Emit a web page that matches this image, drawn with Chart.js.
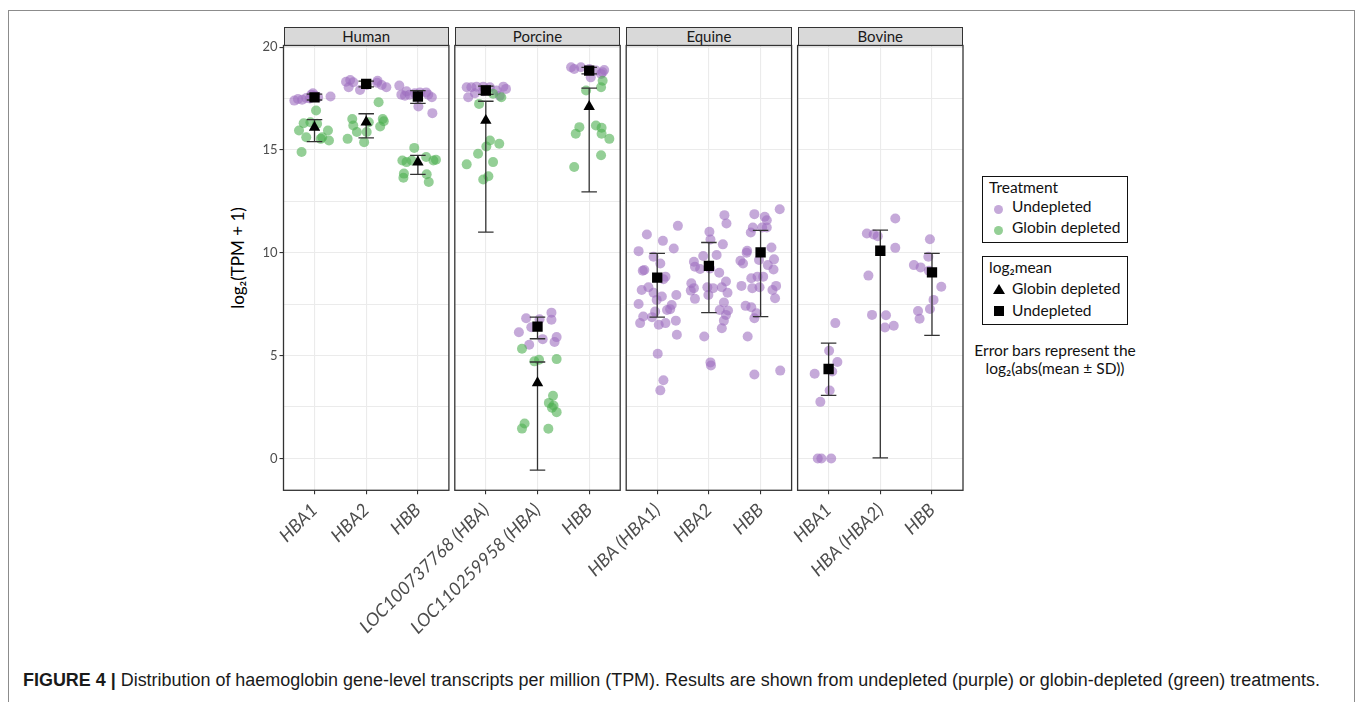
<!DOCTYPE html>
<html>
<head>
<meta charset="utf-8">
<script src="https://cdn.jsdelivr.net/npm/chart.js@4.4.1/dist/chart.umd.min.js"></script>
<style>
  html,body{margin:0;padding:0;background:#fff;}
  body{width:1360px;height:702px;position:relative;overflow:hidden;font-family:Lato,"Open Sans",sans-serif;}
  canvas{position:absolute;left:0;top:0;}
  .frame{position:absolute;left:8px;top:10px;width:1347px;height:720px;border:1.5px solid #8c8c8c;box-sizing:border-box;}
  .strip{position:absolute;top:27px;height:19px;background:#D9D9D9;border:1.2px solid #333;box-sizing:border-box;text-align:center;font-size:15px;line-height:17px;color:#1A1A1A;}
  .ytitle{position:absolute;left:237px;top:258px;transform:translate(-50%,-50%) rotate(-90deg);font-size:17px;color:#000;white-space:nowrap;}
  .lbox{position:absolute;left:982px;width:146px;border:1.2px solid #111;box-sizing:border-box;font-size:15.5px;color:#111;}
  .lrow{position:absolute;left:0;white-space:nowrap;}
  .note{position:absolute;left:945px;width:220px;text-align:center;font-size:15.5px;color:#111;line-height:18px;white-space:nowrap;}
  .caption{position:absolute;left:23px;top:670px;font-family:"Liberation Sans Narrow","Liberation Sans",Arial,sans-serif;font-size:18px;color:#1a1a1a;white-space:nowrap;transform-origin:0 0;}
</style>
</head>
<body>
<div class="frame"></div>
<div id="strips"></div>
<div class="ytitle">log₂(TPM + 1)</div>

<div class="lbox" style="top:176px;height:67px;">
  <div class="lrow" style="left:6px;top:1px;">Treatment</div>
  <div class="lrow" style="left:11px;top:22px;"><span style="display:inline-block;width:9px;height:9px;border-radius:50%;background:#C5A9D9;"></span></div>
  <div class="lrow" style="left:29px;top:20px;">Undepleted</div>
  <div class="lrow" style="left:11px;top:43px;"><span style="display:inline-block;width:9px;height:9px;border-radius:50%;background:#94CF95;"></span></div>
  <div class="lrow" style="left:29px;top:41px;">Globin depleted</div>
</div>
<div class="lbox" style="top:256px;height:69px;">
  <div class="lrow" style="left:6px;top:1px;">log₂mean</div>
  <div class="lrow" style="left:10px;top:27px;width:0;height:0;border-left:6px solid transparent;border-right:6px solid transparent;border-bottom:10px solid #000;"></div>
  <div class="lrow" style="left:29px;top:22px;">Globin depleted</div>
  <div class="lrow" style="left:11px;top:49px;width:10px;height:10px;background:#000;"></div>
  <div class="lrow" style="left:29px;top:44px;">Undepleted</div>
</div>
<div class="note" style="top:341px;">Error bars represent the<br>log₂(abs(mean ± SD))</div>

<div class="caption" id="caption"><b>FIGURE 4 |</b> Distribution of haemoglobin gene-level transcripts per million (TPM). Results are shown from undepleted (purple) or globin-depleted (green) treatments.</div>

<script>
// ---------------- DATA ----------------
const panels = ['Human', 'Porcine', 'Equine', 'Bovine'];
const genes = [
  ['HBA1', 'HBA2', 'HBB'],
  ['LOC100737768 (HBA)', 'LOC110259958 (HBA)', 'HBB'],
  ['HBA (HBA1)', 'HBA2', 'HBB'],
  ['HBA1', 'HBA (HBA2)', 'HBB']
];
const yTickValues = [0, 2.5, 5, 7.5, 10, 12.5, 15, 17.5, 20];
const yLabelled = [0, 5, 10, 15, 20];

// jittered samples: [category index (1-3), horizontal jitter, log2(TPM+1)]
const humanUndepleted = [
  [1,-0.39,17.40],[1,-0.32,17.48],[1,-0.24,17.44],[1,-0.16,17.53],[1,-0.09,17.50],[1,-0.06,17.69],[1,-0.03,17.76],[1,0.01,17.64],[1,0.07,17.56],[1,0.31,17.60],
  [2,-0.39,18.32],[2,-0.31,18.40],[2,-0.34,18.05],[2,-0.25,18.29],[2,-0.12,17.92],[2,0.01,18.16],[2,0.21,18.27],[2,0.22,18.37],[2,0.30,18.16],[2,0.39,18.05],
  [3,-0.36,18.13],[3,-0.32,17.69],[3,-0.25,17.64],[3,-0.22,17.85],[3,-0.16,17.69],[3,-0.06,17.76],[3,0.04,17.80],[3,0.16,17.80],[3,0.20,17.69],[3,0.27,17.56],[3,0.01,17.11],[3,0.28,16.79]
];
const humanDepleted = [
  [1,0.03,16.92],[1,-0.21,16.30],[1,-0.08,16.35],[1,0.05,16.27],[1,-0.30,15.95],[1,0.26,15.95],[1,-0.16,15.62],[1,0.15,15.62],[1,0.12,15.54],[1,0.28,15.46],[1,-0.25,14.90],
  [2,0.24,17.32],[2,-0.27,16.51],[2,0.32,16.51],[2,0.34,16.40],[2,0.05,16.35],[2,-0.25,16.19],[2,0.27,16.14],[2,-0.18,15.87],[2,0.01,15.87],[2,-0.36,15.54],[2,-0.04,15.38],
  [3,-0.07,15.10],[3,-0.30,14.49],[3,-0.22,14.41],[3,-0.12,14.49],[3,0.16,14.66],[3,0.30,14.49],[3,0.35,14.52],[3,-0.27,13.85],[3,-0.28,13.65],[3,0.17,13.82],[3,0.21,13.44]
];
const porcineUndepleted = [
  [1,-0.37,18.05],[1,-0.28,18.05],[1,-0.18,18.08],[1,-0.05,18.08],[1,0.08,18.05],[1,0.21,17.89],[1,0.34,18.08],[1,0.39,17.97],[1,-0.34,17.56],[1,-0.21,17.76],[1,-0.05,17.86],[1,0.27,17.64],
  [2,-0.22,6.82],[2,0.04,6.77],[2,0.27,7.09],[2,0.27,6.74],[2,-0.12,6.38],[2,-0.36,6.14],[2,0.10,5.80],[2,0.37,5.90],[2,0.33,5.66],[2,-0.16,5.53],
  [3,-0.35,19.02],[3,-0.16,19.02],[3,0.00,18.94],[3,0.13,18.86],[3,0.29,18.89],[3,0.26,18.78],[3,0.03,18.53],[3,-0.29,18.94],[3,0.23,18.70]
];
const porcineDepleted = [
  [1,-0.13,17.24],[1,0.14,17.73],[1,0.30,17.56],[1,0.08,15.46],[1,0.26,15.30],[1,0.01,15.17],[1,-0.15,14.82],[1,-0.37,14.30],[1,0.14,14.41],[1,0.05,13.72],[1,-0.05,13.56],
  [2,-0.30,5.33],[2,-0.06,4.72],[2,0.03,4.80],[2,0.37,4.83],[2,0.30,3.05],[2,0.22,2.70],[2,0.31,2.57],[2,0.28,2.46],[2,0.37,2.25],[2,-0.25,1.70],[2,-0.30,1.45],[2,0.21,1.44],
  [3,0.26,18.37],[3,0.23,18.05],[3,-0.06,17.89],[3,-0.19,16.11],[3,0.13,16.19],[3,0.24,16.08],[3,-0.26,15.79],[3,0.24,15.79],[3,0.39,15.54],[3,0.23,14.74],[3,-0.29,14.17]
];
const equineUndepleted = [
  [1,-0.36,10.08],[1,-0.20,10.89],[1,0.11,10.58],[1,0.32,10.21],[1,0.40,11.31],[1,-0.28,9.13],[1,-0.25,9.16],[1,-0.07,9.81],[1,0.06,9.48],[1,0.16,8.84],[1,0.12,8.71],
  [1,-0.30,8.19],[1,-0.17,8.32],[1,-0.07,8.06],[1,-0.01,7.71],[1,0.09,7.87],[1,0.37,7.95],[1,-0.36,7.51],[1,0.28,7.46],[1,-0.04,7.14],[1,0.19,7.22],[1,0.25,7.26],
  [1,-0.27,6.90],[1,-0.33,6.58],[1,-0.10,6.87],[1,0.03,6.50],[1,0.16,6.58],[1,0.36,6.70],[1,0.38,6.01],[1,0.01,5.09],[1,0.12,3.80],[1,0.06,3.31],
  [2,0.30,11.83],[2,0.34,11.42],[2,0.01,11.02],[2,0.03,10.65],[2,0.27,10.41],[2,-0.29,9.56],[2,-0.11,9.84],[2,0.15,9.89],[2,-0.27,9.32],[2,-0.17,9.21],[2,0.02,9.24],
  [2,0.20,9.03],[2,-0.34,8.52],[2,-0.29,8.28],[2,-0.35,8.16],[2,-0.03,8.32],[2,0.08,8.28],[2,0.25,8.32],[2,0.33,8.60],[2,0.36,8.06],[2,-0.27,7.76],[2,-0.01,7.95],
  [2,0.29,7.58],[2,0.21,7.22],[2,0.37,7.19],[2,0.33,6.98],[2,0.29,6.70],[2,0.25,6.33],[2,-0.09,5.93],[2,0.03,4.67],[2,0.04,4.52],
  [3,0.37,12.12],[3,-0.12,11.88],[3,0.08,11.75],[3,0.12,11.58],[3,-0.15,11.23],[3,0.03,11.23],[3,0.12,11.23],[3,-0.19,10.99],[3,-0.26,10.10],[3,-0.27,10.00],[3,0.21,10.26],
  [3,-0.03,9.65],[3,-0.39,9.61],[3,-0.34,9.48],[3,0.26,9.68],[3,0.14,9.40],[3,0.25,9.19],[3,-0.18,8.76],[3,-0.06,8.84],[3,0.05,8.84],[3,-0.16,8.28],[3,-0.37,8.39],
  [3,-0.02,8.32],[3,0.30,8.39],[3,0.23,8.19],[3,0.28,7.79],[3,-0.29,7.42],[3,-0.18,7.35],[3,-0.08,7.06],[3,-0.12,6.82],[3,-0.25,5.93],[3,-0.12,4.08],[3,0.38,4.27]
];
const equineDepleted = [];
const bovineUndepleted = [
  [1,0.13,6.58],[1,0.01,5.24],[1,0.17,4.69],[1,0.07,4.23],[1,-0.27,4.12],[1,0.02,3.30],[1,-0.16,2.75],[1,-0.21,0.00],[1,-0.14,0.00],[1,0.05,0.00],
  [2,0.29,11.67],[2,-0.26,10.94],[2,-0.13,10.89],[2,-0.05,10.81],[2,0.29,10.24],[2,-0.23,8.89],[2,-0.16,6.98],[2,0.11,6.96],[2,0.09,6.37],[2,0.26,6.45],
  [3,-0.04,10.66],[3,-0.07,9.81],[3,-0.35,9.40],[3,-0.22,9.29],[3,-0.06,9.13],[3,0.18,8.35],[3,0.03,7.71],[3,-0.27,7.17],[3,-0.04,7.27],[3,-0.24,6.79]
];
const bovineDepleted = [];

// log2 means and error bars, per panel, per gene
const meanUndepleted = [[17.56,18.21,17.60],[17.89,6.41,18.86],[8.79,9.36,10.02],[4.35,10.10,9.05]];
const errUndepletedLow = [[17.43,18.07,17.27],[17.70,5.82,18.70],[6.87,7.09,6.90],[3.07,0.03,5.98]];
const errUndepletedHigh = [[17.72,18.35,17.89],[18.10,6.87,19.02],[9.97,10.50,11.09],[5.61,11.10,9.97]];
const meanDepleted = [[16.10,16.35,14.41],[16.43,3.67,17.11],[],[]];
const errDepletedLow = [[15.41,15.59,13.81],[11.00,-0.57,12.96],[],[]];
const errDepletedHigh = [[16.48,16.76,14.74],[17.37,4.69,18.01],[],[]];

const undepletedByPanel = [humanUndepleted, porcineUndepleted, equineUndepleted, bovineUndepleted];
const depletedByPanel = [humanDepleted, porcineDepleted, equineDepleted, bovineDepleted];

// ---------------- LAYOUT / STYLE ----------------
const W = 1360, H = 702;
const panelLeft = [283.5, 454.8, 626.2, 797.6];
const panelWidth = 165.4;
const plotTop = 45.5, plotBottom = 490.3;
const yAxisWidth = 53;
const xAxisHeight = 150;
const Y_MIN = -1.55, Y_MAX = 20.08;
const CAP = 0.15;
const PURPLE = 'rgba(158,111,191,0.6)';
const GREEN = 'rgba(76,175,80,0.6)';

// strips
const stripsDiv = document.getElementById('strips');
panels.forEach((p, i) => {
  const d = document.createElement('div');
  d.className = 'strip';
  d.style.left = panelLeft[i] + 'px';
  d.style.width = panelWidth + 'px';
  d.textContent = p;
  stripsDiv.appendChild(d);
});

function pts(arr) { return arr.map(r => ({x: r[0] + r[1], y: r[2]})); }
function errLines(lo, hi) {
  const d = [];
  lo.forEach((l, k) => {
    const c = k + 1, h = hi[k];
    d.push({x:c,y:l},{x:c,y:h},{x:c,y:null},
           {x:c-CAP,y:l},{x:c+CAP,y:l},{x:c,y:null},
           {x:c-CAP,y:h},{x:c+CAP,y:h},{x:c,y:null});
  });
  return d;
}
function means(arr) { return arr.map((v, k) => ({x: k + 1, y: v})); }

const borderPlugin = {
  id: 'panelBorder',
  afterDatasetsDraw(chart) {
    const a = chart.chartArea, ctx = chart.ctx;
    ctx.save();
    ctx.strokeStyle = '#333';
    ctx.lineWidth = 1.3;
    ctx.strokeRect(a.left, a.top, a.right - a.left, a.bottom - a.top);
    ctx.restore();
  }
};

panels.forEach((p, i) => {
  const cv = document.createElement('canvas');
  cv.width = W; cv.height = H;
  cv.style.width = W + 'px'; cv.style.height = H + 'px';
  document.body.appendChild(cv);
  const first = i === 0;
  const datasets = [
    {type:'scatter', data: means(meanUndepleted[i]), pointStyle:'rect', pointRadius:7.3, backgroundColor:'#000', borderWidth:0},
    {type:'scatter', data: means(meanDepleted[i]), pointStyle:'triangle', pointRadius:6.6, backgroundColor:'#000', borderWidth:0},
    {type:'line', data: errLines(errUndepletedLow[i], errUndepletedHigh[i]), borderColor:'#333', borderWidth:1.3, pointRadius:0, spanGaps:false, fill:false},
    {type:'line', data: errLines(errDepletedLow[i], errDepletedHigh[i]), borderColor:'#333', borderWidth:1.3, pointRadius:0, spanGaps:false, fill:false},
    {type:'scatter', data: pts(depletedByPanel[i]), pointRadius:5, backgroundColor:GREEN, borderWidth:0},
    {type:'scatter', data: pts(undepletedByPanel[i]), pointRadius:5, backgroundColor:PURPLE, borderWidth:0}
  ];
  new Chart(cv, {
    type: 'scatter',
    data: {datasets},
    plugins: [borderPlugin],
    options: {
      responsive: false,
      animation: false,
      devicePixelRatio: 1,
      events: [],
      layout: {padding: {
        left: panelLeft[i] - (first ? yAxisWidth : 0),
        right: W - (panelLeft[i] + panelWidth),
        top: plotTop,
        bottom: H - plotBottom - xAxisHeight
      }},
      plugins: {legend: {display: false}, tooltip: {enabled: false}},
      scales: {
        x: {
          type: 'linear', min: 0.4, max: 3.6,
          afterBuildTicks: ax => { ax.ticks = genes[i].map((g, k) => ({value: k + 1})); },
          afterFit: ax => { ax.height = xAxisHeight; ax.paddingLeft = 0; ax.paddingRight = 0; },
          grid: {color: '#EBEBEB', lineWidth: 1.1, tickLength: 4, tickColor: '#333', drawTicks: true},
          border: {display: false},
          ticks: {
            autoSkip: false, minRotation: 45, maxRotation: 45, padding: 5,
            color: '#4D4D4D', font: {family: 'Lato', size: 18, style: 'italic'},
            callback: v => genes[i][Math.round(v) - 1]
          }
        },
        y: {
          type: 'linear', min: Y_MIN, max: Y_MAX,
          afterBuildTicks: ax => { ax.ticks = yTickValues.map(v => ({value: v})); },
          afterFit: ax => { ax.width = first ? yAxisWidth : 0; ax.paddingTop = 0; ax.paddingBottom = 0; },
          grid: {
            color: '#EBEBEB', lineWidth: 1.1, drawTicks: first, tickLength: 4,
            tickColor: c => (first && yLabelled.includes(c.tick.value)) ? '#333' : 'rgba(0,0,0,0)'
          },
          border: {display: false},
          ticks: {
            display: first, padding: 2, color: '#4D4D4D',
            font: {family: 'Lato', size: 13},
            callback: v => yLabelled.includes(v) ? String(v) : ''
          }
        }
      }
    }
  });
});

// fit caption to the width of the original line
const cap = document.getElementById('caption');
const targetW = 1297;
const w = cap.getBoundingClientRect().width;
cap.style.transform = 'scaleX(' + (targetW / w) + ')';
</script>
</body>
</html>
